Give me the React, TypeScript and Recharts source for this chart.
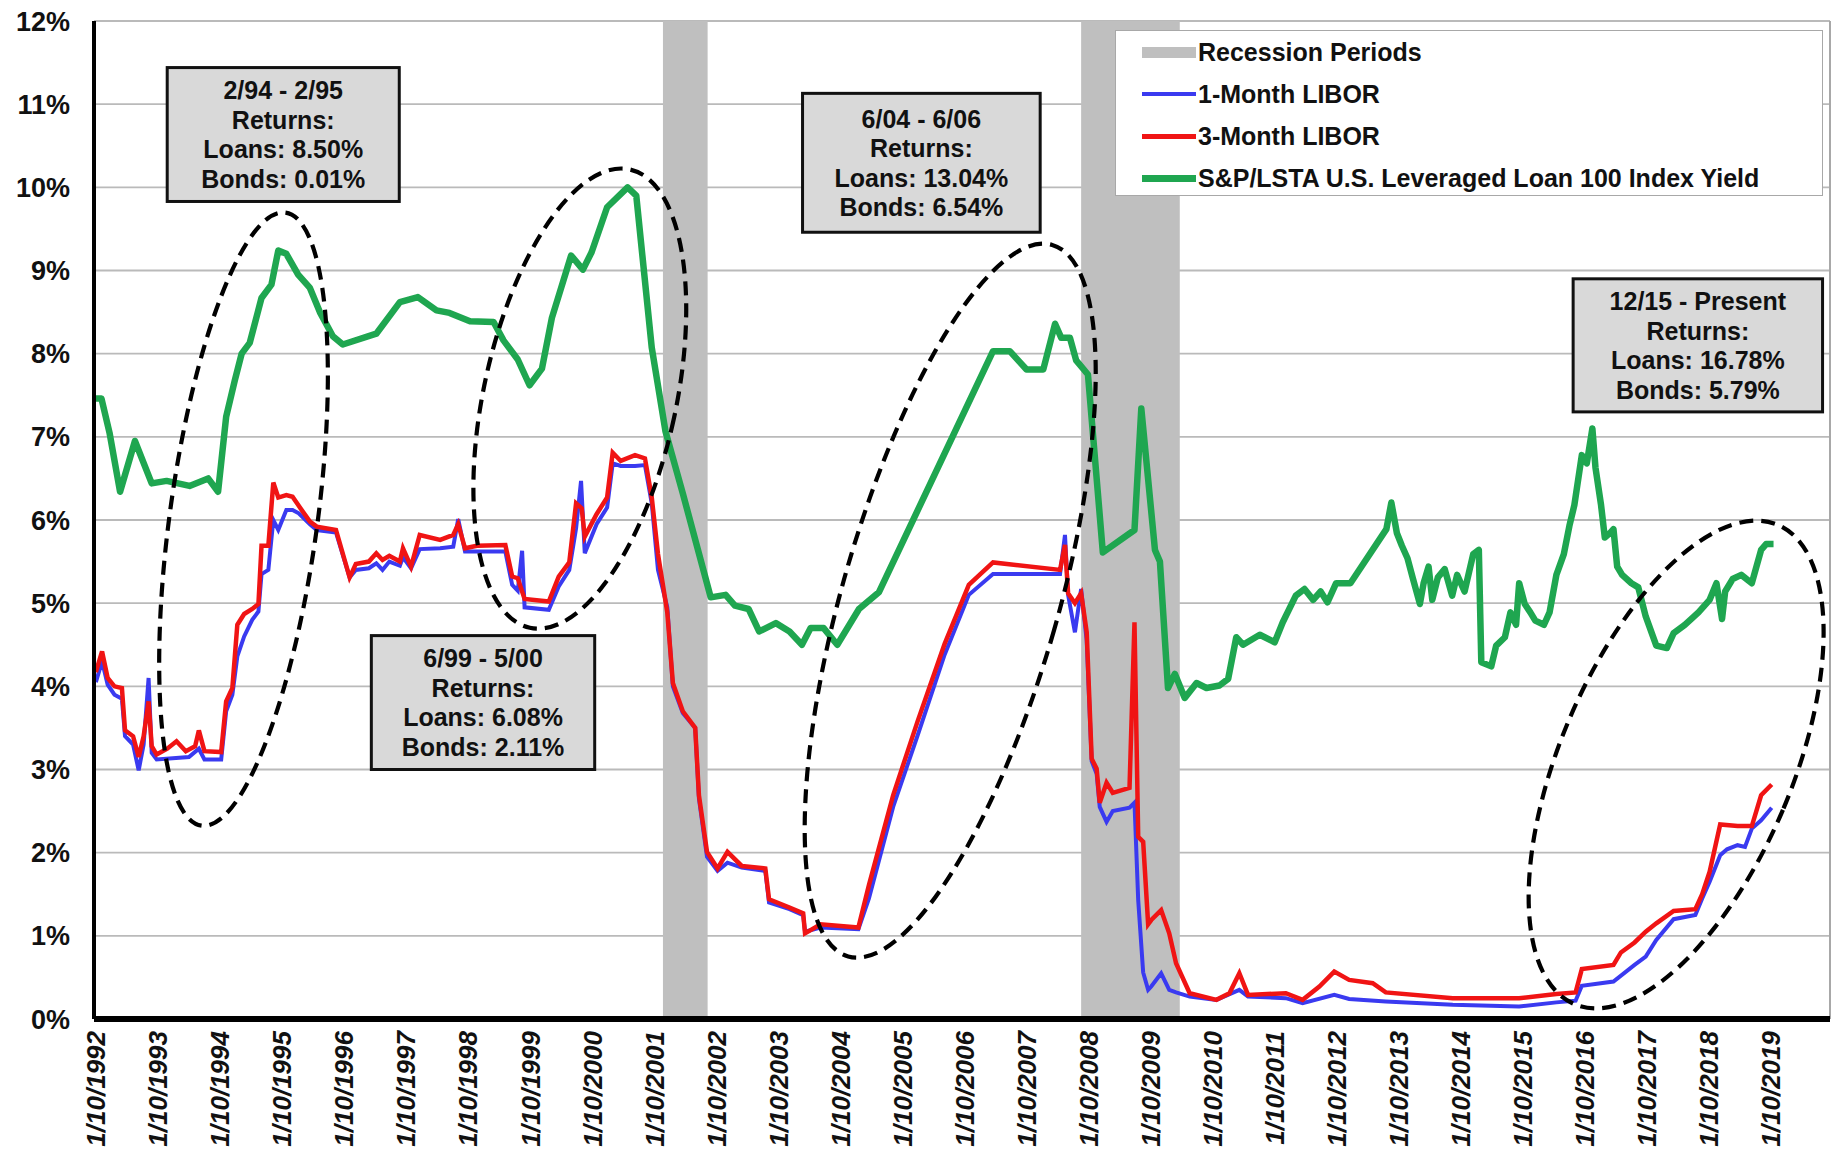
import {
  CartesianGrid,
  Legend,
  Line,
  LineChart,
  ReferenceArea,
  ReferenceLine,
  XAxis,
  YAxis
} from 'recharts'

const FONT = '"Liberation Sans", Arial, Helvetica, sans-serif'

const BLUE = '#3a3af0'
const RED = '#f01414'
const GREEN = '#1fa650'
const RECESSION_GRAY = '#bfbfbf'

const X_MIN = 1991.97
const X_MAX = 2019.95

// tick labels
const yearTicks = [
  1992, 1993, 1994, 1995, 1996, 1997, 1998, 1999, 2000, 2001, 2002, 2003, 2004, 2005,
  2006, 2007, 2008, 2009, 2010, 2011, 2012, 2013, 2014, 2015, 2016, 2017, 2018, 2019
]
const pctTicks = [0, 1, 2, 3, 4, 5, 6, 7, 8, 9, 10, 11, 12]

// NBER recessions, as [start, end] in decimal years
const recessions = [
  [2001.14, 2001.86],
  [2007.88, 2009.47]
]

// [decimal year, percent]
const libor1m = [
  [1992.0, 4.05], [1992.1, 4.3], [1992.19, 4.02], [1992.3, 3.9], [1992.42, 3.85],
  [1992.47, 3.4], [1992.6, 3.3], [1992.69, 2.99], [1992.77, 3.3], [1992.85, 4.1],
  [1992.9, 3.2], [1992.98, 3.12], [1993.5, 3.15], [1993.66, 3.25], [1993.75, 3.12],
  [1994.02, 3.12], [1994.1, 3.7], [1994.2, 3.9], [1994.28, 4.36], [1994.39, 4.6],
  [1994.52, 4.8], [1994.62, 4.9], [1994.67, 5.35], [1994.78, 5.4], [1994.86, 6.0],
  [1994.94, 5.88], [1995.07, 6.12], [1995.17, 6.12], [1995.27, 6.08], [1995.45, 5.95],
  [1995.56, 5.88], [1995.87, 5.85], [1996.09, 5.31], [1996.19, 5.4], [1996.4, 5.42],
  [1996.52, 5.48], [1996.62, 5.4], [1996.73, 5.5], [1996.9, 5.45], [1996.95, 5.55],
  [1997.08, 5.42], [1997.22, 5.65], [1997.55, 5.66], [1997.76, 5.68], [1997.84, 6.01],
  [1997.95, 5.62], [1998.14, 5.62], [1998.6, 5.62], [1998.71, 5.22], [1998.8, 5.15],
  [1998.87, 5.63], [1998.91, 4.95], [1999.3, 4.92], [1999.46, 5.2], [1999.63, 5.4],
  [1999.74, 5.9], [1999.82, 6.47], [1999.88, 5.6], [2000.07, 5.95], [2000.24, 6.15],
  [2000.33, 6.68], [2000.46, 6.65], [2000.69, 6.65], [2000.85, 6.66], [2000.96, 6.2],
  [2001.06, 5.4], [2001.21, 4.95], [2001.3, 4.0], [2001.46, 3.68], [2001.66, 3.5],
  [2001.72, 2.65], [2001.85, 1.95], [2002.02, 1.78], [2002.18, 1.88], [2002.41, 1.82],
  [2002.79, 1.78], [2002.85, 1.4], [2003.18, 1.32], [2003.4, 1.25], [2003.43, 1.05],
  [2003.68, 1.1], [2004.29, 1.08], [2004.46, 1.45], [2004.85, 2.55], [2005.24, 3.4],
  [2005.68, 4.38], [2006.07, 5.1], [2006.46, 5.35], [2007.54, 5.35], [2007.62, 5.82],
  [2007.67, 5.1], [2007.78, 4.65], [2007.88, 5.17], [2007.97, 4.55], [2008.05, 3.1],
  [2008.13, 2.95], [2008.18, 2.55], [2008.29, 2.37], [2008.39, 2.5], [2008.66, 2.54],
  [2008.74, 2.6], [2008.8, 1.43], [2008.88, 0.56], [2008.96, 0.35], [2009.01, 0.39],
  [2009.17, 0.55], [2009.3, 0.35], [2009.41, 0.32], [2009.63, 0.27], [2010.06, 0.23],
  [2010.43, 0.35], [2010.57, 0.27], [2011.18, 0.25], [2011.45, 0.19], [2011.96, 0.29],
  [2012.2, 0.24], [2012.79, 0.21], [2013.87, 0.17], [2014.94, 0.15], [2015.54, 0.2],
  [2015.85, 0.22], [2015.95, 0.4], [2016.46, 0.45], [2016.8, 0.65], [2016.98, 0.75],
  [2017.15, 0.95], [2017.43, 1.2], [2017.78, 1.25], [2017.89, 1.45], [2018.01, 1.65],
  [2018.18, 1.97], [2018.29, 2.04], [2018.46, 2.09], [2018.58, 2.07], [2018.69, 2.29],
  [2018.84, 2.39], [2019.01, 2.54]
]

const libor3m = [
  [1992.0, 4.17], [1992.1, 4.42], [1992.19, 4.1], [1992.3, 4.0], [1992.42, 3.98],
  [1992.47, 3.47], [1992.6, 3.4], [1992.69, 3.15], [1992.77, 3.4], [1992.85, 3.82],
  [1992.9, 3.28], [1992.98, 3.18], [1993.15, 3.25], [1993.3, 3.34], [1993.45, 3.22],
  [1993.6, 3.28], [1993.66, 3.47], [1993.75, 3.22], [1994.02, 3.21], [1994.1, 3.82],
  [1994.2, 3.98], [1994.28, 4.74], [1994.39, 4.87], [1994.52, 4.93], [1994.62, 4.99],
  [1994.67, 5.69], [1994.78, 5.69], [1994.86, 6.45], [1994.94, 6.27], [1995.07, 6.3],
  [1995.17, 6.28], [1995.27, 6.17], [1995.45, 5.98], [1995.56, 5.92], [1995.87, 5.88],
  [1996.09, 5.31], [1996.19, 5.47], [1996.4, 5.5], [1996.52, 5.6], [1996.62, 5.52],
  [1996.73, 5.57], [1996.9, 5.5], [1996.95, 5.66], [1997.08, 5.44], [1997.22, 5.82],
  [1997.55, 5.76], [1997.76, 5.82], [1997.84, 5.95], [1997.95, 5.66], [1998.14, 5.69],
  [1998.6, 5.7], [1998.71, 5.32], [1998.8, 5.3], [1998.91, 5.05], [1999.3, 5.02],
  [1999.46, 5.32], [1999.63, 5.49], [1999.74, 6.2], [1999.83, 6.14], [1999.88, 5.8],
  [2000.07, 6.07], [2000.24, 6.27], [2000.33, 6.81], [2000.46, 6.71], [2000.69, 6.78],
  [2000.85, 6.74], [2000.96, 6.27], [2001.06, 5.59], [2001.21, 4.89], [2001.3, 4.04],
  [2001.46, 3.7], [2001.66, 3.5], [2001.72, 2.69], [2001.85, 2.01], [2002.02, 1.81],
  [2002.18, 2.01], [2002.41, 1.84], [2002.79, 1.81], [2002.85, 1.44], [2003.18, 1.34],
  [2003.4, 1.27], [2003.43, 1.03], [2003.68, 1.14], [2004.29, 1.1], [2004.46, 1.61],
  [2004.85, 2.69], [2005.24, 3.57], [2005.68, 4.51], [2006.07, 5.22], [2006.46, 5.49],
  [2007.54, 5.4], [2007.62, 5.7], [2007.67, 5.12], [2007.78, 5.0], [2007.88, 5.12],
  [2007.97, 4.65], [2008.05, 3.13], [2008.13, 3.01], [2008.18, 2.6], [2008.29, 2.84],
  [2008.39, 2.72], [2008.66, 2.78], [2008.74, 4.77], [2008.8, 2.19], [2008.88, 2.13],
  [2008.96, 1.14], [2009.01, 1.19], [2009.17, 1.31], [2009.3, 1.03], [2009.41, 0.67],
  [2009.63, 0.31], [2010.06, 0.23], [2010.27, 0.31], [2010.43, 0.55], [2010.57, 0.29],
  [2011.18, 0.31], [2011.45, 0.23], [2011.72, 0.39], [2011.96, 0.57], [2012.2, 0.47],
  [2012.58, 0.43], [2012.79, 0.32], [2013.87, 0.25], [2014.94, 0.25], [2015.54, 0.3],
  [2015.85, 0.32], [2015.95, 0.6], [2016.46, 0.65], [2016.58, 0.8], [2016.8, 0.92],
  [2016.98, 1.05], [2017.15, 1.15], [2017.43, 1.3], [2017.78, 1.32], [2017.89, 1.5],
  [2018.01, 1.77], [2018.18, 2.34], [2018.46, 2.32], [2018.69, 2.32], [2018.84, 2.69],
  [2019.01, 2.82]
]

const loanYield = [
  [1992.0, 7.46], [1992.09, 7.46], [1992.22, 7.05], [1992.39, 6.34], [1992.63, 6.95],
  [1992.9, 6.44], [1993.14, 6.47], [1993.51, 6.41], [1993.81, 6.5], [1993.97, 6.34],
  [1994.1, 7.24], [1994.24, 7.68], [1994.35, 8.0], [1994.48, 8.13], [1994.67, 8.67],
  [1994.83, 8.83], [1994.94, 9.24], [1995.07, 9.2], [1995.26, 8.95], [1995.45, 8.79],
  [1995.61, 8.5], [1995.82, 8.21], [1995.98, 8.11], [1996.52, 8.24], [1996.9, 8.62],
  [1997.19, 8.68], [1997.49, 8.52], [1997.7, 8.49], [1998.03, 8.39], [1998.41, 8.38],
  [1998.57, 8.16], [1998.8, 7.93], [1998.99, 7.62], [1999.19, 7.82], [1999.35, 8.43],
  [1999.66, 9.18], [1999.85, 9.01], [1999.99, 9.22], [2000.24, 9.76], [2000.57, 10.0],
  [2000.71, 9.9], [2000.96, 8.07], [2001.18, 7.07], [2001.46, 6.32], [2001.91, 5.07],
  [2002.15, 5.1], [2002.3, 4.97], [2002.52, 4.93], [2002.69, 4.66], [2002.96, 4.76],
  [2003.18, 4.66], [2003.38, 4.5], [2003.52, 4.7], [2003.73, 4.7], [2003.95, 4.5],
  [2004.3, 4.93], [2004.62, 5.13], [2006.46, 8.03], [2006.73, 8.03], [2007.0, 7.81],
  [2007.27, 7.81], [2007.46, 8.36], [2007.56, 8.19], [2007.7, 8.19], [2007.8, 7.92],
  [2007.99, 7.75], [2008.23, 5.61], [2008.74, 5.88], [2008.85, 7.34], [2009.07, 5.64],
  [2009.15, 5.5], [2009.28, 3.98], [2009.39, 4.15], [2009.55, 3.86], [2009.74, 4.04],
  [2009.9, 3.98], [2010.11, 4.01], [2010.25, 4.09], [2010.38, 4.59], [2010.49, 4.5],
  [2010.76, 4.62], [2011.0, 4.53], [2011.13, 4.77], [2011.34, 5.09], [2011.48, 5.17],
  [2011.62, 5.04], [2011.74, 5.14], [2011.85, 5.01], [2011.99, 5.24], [2012.22, 5.24],
  [2012.8, 5.89], [2012.88, 6.21], [2012.97, 5.84], [2013.05, 5.69], [2013.14, 5.54],
  [2013.23, 5.29], [2013.34, 4.99], [2013.4, 5.24], [2013.48, 5.44], [2013.54, 5.04],
  [2013.63, 5.31], [2013.74, 5.41], [2013.86, 5.09], [2013.94, 5.34], [2014.06, 5.14],
  [2014.2, 5.59], [2014.29, 5.64], [2014.33, 4.29], [2014.49, 4.24], [2014.57, 4.49],
  [2014.71, 4.59], [2014.8, 4.89], [2014.89, 4.74], [2014.94, 5.24], [2015.03, 4.99],
  [2015.12, 4.89], [2015.2, 4.79], [2015.34, 4.74], [2015.43, 4.89], [2015.54, 5.34],
  [2015.66, 5.59], [2015.75, 5.93], [2015.83, 6.18], [2015.95, 6.78], [2016.03, 6.68],
  [2016.12, 7.1], [2016.17, 6.63], [2016.26, 6.18], [2016.32, 5.79], [2016.4, 5.84],
  [2016.46, 5.89], [2016.52, 5.44], [2016.6, 5.34], [2016.75, 5.24], [2016.86, 5.19],
  [2016.98, 4.84], [2017.15, 4.49], [2017.32, 4.46], [2017.43, 4.64], [2017.61, 4.74],
  [2017.83, 4.89], [2018.01, 5.04], [2018.12, 5.24], [2018.21, 4.81], [2018.26, 5.14],
  [2018.38, 5.29], [2018.52, 5.34], [2018.69, 5.24], [2018.84, 5.64], [2018.92, 5.71],
  [2019.04, 5.71]
]

// callout boxes: text, and extent in data units
const callouts = [
  { lines: ['2/94 - 2/95', 'Returns:', 'Loans: 8.50%', 'Bonds: 0.01%'], x1: 1993.15, x2: 1996.89, y1: 9.83, y2: 11.44 },
  { lines: ['6/99 - 5/00', 'Returns:', 'Loans: 6.08%', 'Bonds: 2.11%'], x1: 1996.44, x2: 2000.04, y1: 3.0, y2: 4.61 },
  { lines: ['6/04 - 6/06', 'Returns:', 'Loans: 13.04%', 'Bonds: 6.54%'], x1: 2003.39, x2: 2007.22, y1: 9.46, y2: 11.13 },
  { lines: ['12/15 - Present', 'Returns:', 'Loans: 16.78%', 'Bonds: 5.79%'], x1: 2015.81, x2: 2019.83, y1: 7.3, y2: 8.9 }
]

// dashed rings around each period: centre, half-axes (years, %) and tilt in degrees
const rings = [
  { cx: 1994.38, cy: 6.01, rx: 1.19, ry: 3.72, tilt: 7.8 },
  { cx: 1999.8, cy: 7.46, rx: 1.55, ry: 2.82, tilt: 12.3 },
  { cx: 2005.77, cy: 5.03, rx: 1.74, ry: 4.45, tilt: 16 },
  { cx: 2017.47, cy: 3.06, rx: 1.87, ry: 3.13, tilt: 23 }
]

const legendItems = [
  { label: 'Recession Periods', color: RECESSION_GRAY, thickness: 11 },
  { label: '1-Month LIBOR', color: BLUE, thickness: 4 },
  { label: '3-Month LIBOR', color: RED, thickness: 5 },
  { label: 'S&P/LSTA U.S. Leveraged Loan 100 Index Yield', color: GREEN, thickness: 7 }
]

const toPoints = (rows: number[][]) => rows.map(([t, v]) => ({ t, v }))

const YearTick = ({ x, y, payload }: any) => (
  <text
    x={x}
    y={y}
    dy="0.36em"
    transform={`rotate(-90 ${x} ${y})`}
    textAnchor="end"
    fontFamily={FONT}
    fontSize={26}
    fontWeight="bold"
    fontStyle="italic"
    fill="#111"
  >
    {`1/10/${payload.value}`}
  </text>
)

const ringShape = (tilt: number) => (props: any) => {
  const { x, y, width, height } = props
  const cx = x + width / 2
  const cy = y + height / 2
  return (
    <ellipse
      cx={cx}
      cy={cy}
      rx={width / 2}
      ry={height / 2}
      transform={`rotate(${tilt} ${cx} ${cy})`}
      fill="none"
      stroke="#000"
      strokeWidth={4.2}
      strokeDasharray="14 8"
    />
  )
}

const calloutShape = (lines: string[]) => (props: any) => {
  const { x, y, width, height } = props
  const mid = y + height / 2
  const step = 29.5
  return (
    <g>
      <rect x={x} y={y} width={width} height={height} fill="#d9d9d9" stroke="#111" strokeWidth={3} />
      {lines.map((line, i) => (
        <text
          key={i}
          x={x + width / 2}
          y={mid + (i - (lines.length - 1) / 2) * step}
          dy="0.36em"
          textAnchor="middle"
          fontFamily={FONT}
          fontSize={25}
          fontWeight="bold"
          fill="#111"
        >
          {line}
        </text>
      ))}
    </g>
  )
}

const LegendBox = () => (
  <div
    style={{
      width: 708,
      height: 166,
      boxSizing: 'border-box',
      background: '#fff',
      border: '1px solid #a8a8a8',
      fontFamily: FONT,
      fontSize: 25,
      fontWeight: 'bold',
      color: '#111'
    }}
  >
    {legendItems.map((item) => (
      <div key={item.label} style={{ height: 42, display: 'flex', alignItems: 'center' }}>
        <span
          style={{
            display: 'inline-block',
            marginLeft: 26,
            width: 54,
            height: item.thickness,
            background: item.color
          }}
        />
        <span style={{ marginLeft: 2, whiteSpace: 'nowrap' }}>{item.label}</span>
      </div>
    ))}
  </div>
)

export default function App() {
  return (
    <div style={{ position: 'absolute', left: 0, top: 0, background: '#fff' }}>
      <LineChart width={1837} height={1157} margin={{ top: 21, right: 7, bottom: 0, left: 0 }}>
        <CartesianGrid vertical={false} stroke="#bababa" strokeWidth={1.8} />
        <ReferenceLine x={X_MAX} stroke="#a8a8a8" strokeWidth={2} />
        {recessions.map(([a, b]) => (
          <ReferenceArea
            key={a}
            x1={a}
            x2={b}
            y1={0}
            y2={12}
            fill={RECESSION_GRAY}
            fillOpacity={1}
            stroke="none"
          />
        ))}
        <XAxis
          type="number"
          dataKey="t"
          domain={[X_MIN, X_MAX]}
          allowDataOverflow
          ticks={yearTicks}
          interval={0}
          height={138}
          tickSize={0}
          tickMargin={12}
          tickLine={false}
          axisLine={{ stroke: '#000', strokeWidth: 6 }}
          tick={<YearTick />}
        />
        <YAxis
          type="number"
          domain={[0, 12]}
          ticks={pctTicks}
          interval={0}
          width={94}
          tickSize={0}
          tickMargin={24}
          tickLine={false}
          axisLine={{ stroke: '#000', strokeWidth: 4 }}
          tickFormatter={(v) => `${v}%`}
          tick={{ fontFamily: FONT, fontSize: 27, fontWeight: 'bold', fill: '#111' }}
        />
        <Line
          data={toPoints(libor1m)}
          dataKey="v"
          name="1-Month LIBOR"
          type="linear"
          stroke={BLUE}
          strokeWidth={4}
          dot={false}
          isAnimationActive={false}
        />
        <Line
          data={toPoints(libor3m)}
          dataKey="v"
          name="3-Month LIBOR"
          type="linear"
          stroke={RED}
          strokeWidth={4.5}
          dot={false}
          isAnimationActive={false}
        />
        <Line
          data={toPoints(loanYield)}
          dataKey="v"
          name="S&P/LSTA U.S. Leveraged Loan 100 Index Yield"
          type="linear"
          stroke={GREEN}
          strokeWidth={6.5}
          strokeLinejoin="round"
          dot={false}
          isAnimationActive={false}
        />
        {rings.map((r) => (
          <ReferenceArea
            key={`ring-${r.cx}`}
            x1={r.cx - r.rx}
            x2={r.cx + r.rx}
            y1={r.cy - r.ry}
            y2={r.cy + r.ry}
            ifOverflow="visible"
            zIndex={1500}
            shape={ringShape(r.tilt)}
          />
        ))}
        {callouts.map((c) => (
          <ReferenceArea
            key={c.lines[0]}
            x1={c.x1}
            x2={c.x2}
            y1={c.y1}
            y2={c.y2}
            ifOverflow="visible"
            zIndex={1600}
            shape={calloutShape(c.lines)}
          />
        ))}
        <Legend
          layout="horizontal"
          verticalAlign="middle"
          align="center"
          wrapperStyle={{ left: 1115, top: 30, width: 708, height: 166 }}
          content={() => <LegendBox />}
        />
      </LineChart>
    </div>
  )
}
